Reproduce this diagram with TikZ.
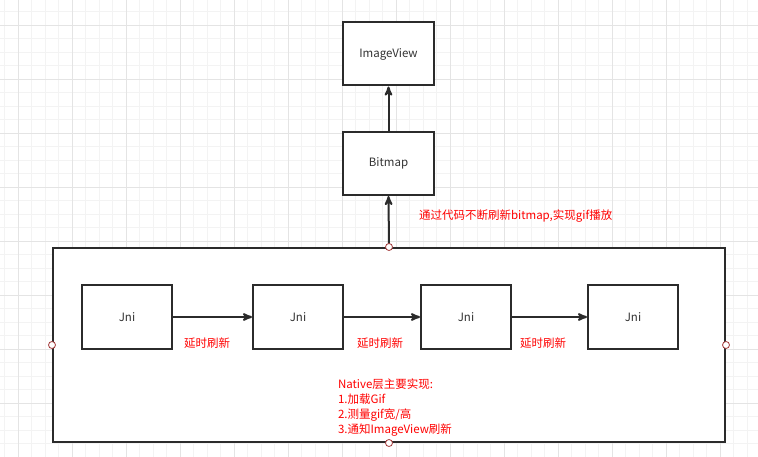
\documentclass[tikz,border=0pt]{standalone}
\usepackage{fontspec}
\setmainfont{Noto Sans CJK SC}
\usepackage{tikz}
\usetikzlibrary{arrows,positioning}
\definecolor{boxline}{HTML}{2B2B2B}
\definecolor{boxtext}{HTML}{333333}
\definecolor{notered}{HTML}{FF0000}
\definecolor{gridminor}{HTML}{F3F3F3}
\definecolor{gridmajor}{HTML}{E4E4E4}
\definecolor{handle}{HTML}{A33B3B}

\begin{document}
\begin{tikzpicture}
[x=1pt,y=-1pt,->,>=stealth',line width=2pt,
  every node/.style={font=\fontsize{11.5}{15}\selectfont},
  view box/.style={rectangle,draw=boxline,fill=white,text=boxtext,minimum width=91pt,minimum height=63pt,inner sep=0pt},
  jni box/.style={rectangle,draw=boxline,fill=white,text=boxtext,minimum width=90pt,minimum height=64pt,inner sep=0pt},
  note/.style={text=notered,inner sep=0pt},
  handle node/.style={circle,draw=handle,fill=white,line width=0.8pt,minimum size=7pt,inner sep=0pt}]

  \useasboundingbox (0,0) rectangle (758,457);
  \fill[white] (0,0) rectangle (758,457);

  % grid
  \foreach \gx in {0,...,56}
    \draw[-,gridminor,line width=0.8pt] (4.8+13.5*\gx,0) -- (4.8+13.5*\gx,457);
  \foreach \gy in {0,...,34}
    \draw[-,gridminor,line width=0.8pt] (0,-2+13.5*\gy) -- (758,-2+13.5*\gy);
  \foreach \gx in {0,...,13}
    \draw[-,gridmajor,line width=0.8pt] (18.3+54*\gx,0) -- (18.3+54*\gx,457);
  \foreach \gy in {0,...,8}
    \draw[-,gridmajor,line width=0.8pt] (0,25+54*\gy) -- (758,25+54*\gy);

  % native layer
  \node [rectangle,draw=boxline,fill=white,minimum width=672pt,minimum height=194pt,inner sep=0pt] (native) at (389,345) {};

  \node [view box] (imageview) at (388.5,54)  {ImageView};
  \node [view box] (bitmap)    at (388.5,163.5) {Bitmap};

  \node [jni box] (jni1) at (127,317) {Jni};
  \node [jni box] (jni2) at (298,317) {Jni};
  \node [jni box] (jni3) at (466,317) {Jni};
  \node [jni box] (jni4) at (633,317) {Jni};

  \node [note] (delay1) at (207,343) {延时刷新};
  \node [note] (delay2) at (380,343) {延时刷新};
  \node [note] (delay3) at (543,343) {延时刷新};

  \node [note,anchor=west] (refresh) at (418,216) {通过代码不断刷新bitmap,实现gif播放};
  \node [note,anchor=north west,align=left] (summary) at (337,378)
    {Native层主要实现:\\1.加载Gif\\2.测量gif宽/高\\3.通知ImageView刷新};

  \foreach \from/\to in {native/bitmap,bitmap/imageview}
    \draw[draw=boxline] (\from.north) -- (\to.south);
  \foreach \from/\to in {jni1/jni2,jni2/jni3,jni3/jni4}
    \draw[draw=boxline] (\from) -- (\to);

  \node [handle node] (topdot)    at (native.north) {};
  \node [handle node] (bottomdot) at (native.south) {};
  \node [handle node] (leftdot)   at (native.west)  {};
  \node [handle node] (rightdot)  at (native.east)  {};

\end{tikzpicture}
\end{document}
